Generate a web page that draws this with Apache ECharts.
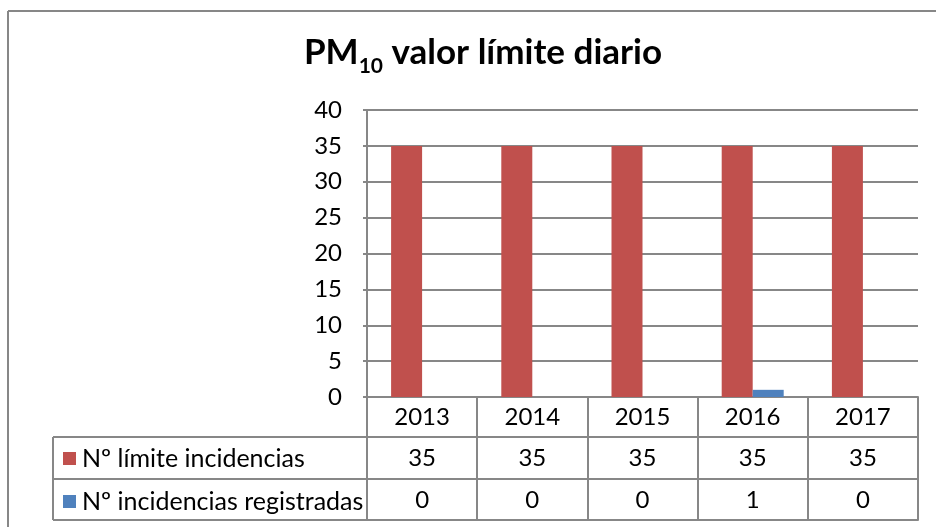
<!DOCTYPE html>
<html>
<head>
<meta charset="utf-8">
<script src="https://cdn.jsdelivr.net/npm/echarts@6/dist/echarts.min.js"></script>
<style>
html,body{margin:0;padding:0;background:#fff;}
#chart{width:936px;height:527px;}
</style>
</head>
<body>
<div id="chart"></div>
<script>
var years = ['2013', '2014', '2015', '2016', '2017'];
var seriesNames = ['Nº límite incidencias', 'Nº incidencias registradas'];
var limiteValues = [35, 35, 35, 35, 35];
var registradasValues = [0, 0, 0, 1, 0];
var yTicks = { min: 0, max: 40, interval: 5 };

var FONT = 'Lato';
var TFONT = 'Lato';
var FS = 24;
var LH = 24;
var GRAY = '#878787';
var RED = '#C0504D';
var BLUE = '#4F81BD';

var gridLeft = 367, gridRight = 918, gridTop = 110, gridBottom = 397;
var rowOff1 = 40, rowOff2 = 82, rowOff3 = 123;
var tableLeft = 53;

var chart = echarts.init(document.getElementById('chart'), null, { renderer: 'canvas' });

var option = {
  animation: false,
  backgroundColor: '#fff',
  title: {
    text: '{a|PM}{b|10}{a| valor límite diario}',
    left: 478,
    textAlign: 'center',
    top: 25,
    textStyle: {
      rich: {
        a: { fontFamily: TFONT, fontWeight: 'bold', fontSize: 35, color: '#000', lineHeight: 40, verticalAlign: 'bottom' },
        b: { fontFamily: TFONT, fontWeight: 'bold', fontSize: 21, color: '#000', lineHeight: 40, verticalAlign: 'bottom', padding: [0, 0, -7, 0] }
      }
    }
  },
  legend: {
    orient: 'vertical',
    left: 63,
    top: 446,
    padding: 0,
    itemWidth: 13,
    itemHeight: 13,
    itemGap: 18,
    icon: 'rect',
    data: seriesNames,
    textStyle: { fontFamily: FONT, fontSize: 25, color: '#000', lineHeight: LH, padding: [0, 0, 0, 1] }
  },
  grid: {
    left: gridLeft,
    right: 936 - gridRight,
    top: gridTop,
    bottom: 527 - gridBottom,
    containLabel: false
  },
  xAxis: [
    {
      type: 'category',
      data: years,
      position: 'bottom',
      boundaryGap: true,
      axisLine: { show: true, lineStyle: { color: GRAY, width: 2 } },
      axisTick: { show: true, interval: 0, length: rowOff3, lineStyle: { color: GRAY, width: 2 } },
      axisLabel: { interval: 0, margin: 8, fontFamily: FONT, fontSize: FS, color: '#000', lineHeight: LH },
      splitLine: { show: false }
    },
    {
      type: 'category',
      data: limiteValues.map(String),
      position: 'bottom',
      offset: rowOff1,
      boundaryGap: true,
      axisLine: { show: true, lineStyle: { color: GRAY, width: 2 } },
      axisTick: { show: false },
      axisLabel: { interval: 0, margin: 9, fontFamily: FONT, fontSize: FS, color: '#000', lineHeight: LH }
    },
    {
      type: 'category',
      data: registradasValues.map(String),
      position: 'bottom',
      offset: rowOff2,
      boundaryGap: true,
      axisLine: { show: true, lineStyle: { color: GRAY, width: 2 } },
      axisTick: { show: false },
      axisLabel: { interval: 0, margin: 9, fontFamily: FONT, fontSize: FS, color: '#000', lineHeight: LH }
    },
    {
      type: 'category',
      data: years,
      position: 'bottom',
      offset: rowOff3,
      boundaryGap: true,
      axisLine: { show: true, lineStyle: { color: GRAY, width: 2 } },
      axisTick: { show: false },
      axisLabel: { show: false }
    }
  ],
  yAxis: {
    type: 'value',
    min: yTicks.min,
    max: yTicks.max,
    interval: yTicks.interval,
    axisLine: { show: true, lineStyle: { color: GRAY, width: 2 } },
    axisTick: { show: true, length: 4, lineStyle: { color: GRAY, width: 2 } },
    axisLabel: { margin: 25, fontFamily: FONT, fontSize: FS, color: '#000' },
    splitLine: { show: true, lineStyle: { color: GRAY, width: 2 } }
  },
  series: [
    {
      name: seriesNames[0],
      type: 'bar',
      xAxisIndex: 0,
      data: limiteValues,
      barWidth: 31,
      barGap: '0%',
      itemStyle: { color: RED }
    },
    {
      name: seriesNames[1],
      type: 'bar',
      xAxisIndex: 0,
      data: registradasValues,
      barWidth: 31,
      barGap: '0%',
      itemStyle: { color: BLUE }
    }
  ],
  graphic: [
    { type: 'line', shape: { x1: 8, y1: 11, x2: 936, y2: 11 }, style: { stroke: GRAY, lineWidth: 2 } },
    { type: 'line', shape: { x1: 8, y1: 11, x2: 8, y2: 527 }, style: { stroke: GRAY, lineWidth: 2 } },
    { type: 'line', shape: { x1: tableLeft, y1: gridBottom + rowOff1, x2: gridLeft, y2: gridBottom + rowOff1 }, style: { stroke: GRAY, lineWidth: 2 } },
    { type: 'line', shape: { x1: tableLeft, y1: gridBottom + rowOff2, x2: gridLeft, y2: gridBottom + rowOff2 }, style: { stroke: GRAY, lineWidth: 2 } },
    { type: 'line', shape: { x1: tableLeft, y1: gridBottom + rowOff3, x2: gridLeft, y2: gridBottom + rowOff3 }, style: { stroke: GRAY, lineWidth: 2 } },
    { type: 'line', shape: { x1: tableLeft, y1: gridBottom + rowOff1, x2: tableLeft, y2: gridBottom + rowOff3 }, style: { stroke: GRAY, lineWidth: 2 } }
  ]
};
chart.setOption(option);
</script>
</body>
</html>
